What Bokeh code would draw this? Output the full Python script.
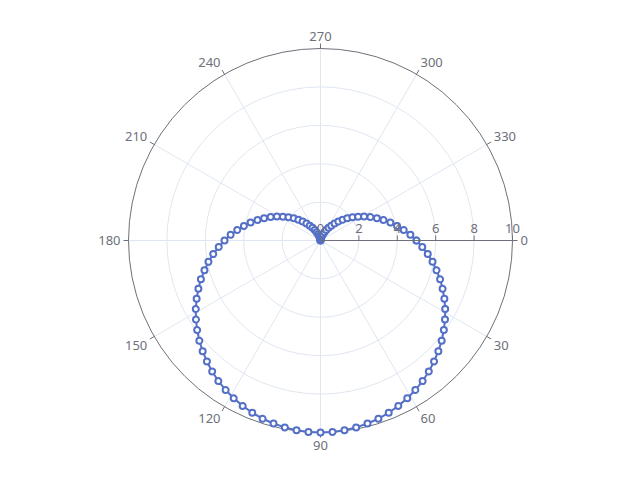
import numpy as np
from bokeh.plotting import figure
from bokeh.models import ColumnDataSource, Range1d
from bokeh.core.properties import value
from bokeh.embed import file_html
from bokeh.resources import INLINE

# ---- data (radius, angle in degrees, clockwise from 3 o'clock) ----
r_values = [5.00, 5.31, 5.63, 5.94, 6.24, 6.55, 6.84, 7.13, 7.41, 7.68, 7.94, 8.19, 8.42,
            8.64, 8.85, 9.05, 9.22, 9.38, 9.52, 9.65, 9.76, 9.84, 9.91, 9.96, 9.99, 10.00,
            9.99, 9.96, 9.91, 9.84, 9.76, 9.65, 9.52, 9.38, 9.22, 9.05, 8.85, 8.64, 8.42,
            8.19, 7.94, 7.68, 7.41, 7.13, 6.84, 6.55, 6.24, 5.94, 5.63, 5.31, 5.00,
            4.69, 4.37, 4.06, 3.76, 3.45, 3.16, 2.87, 2.59, 2.32, 2.06, 1.81, 1.58, 1.36,
            1.15, 0.95, 0.78, 0.62, 0.48, 0.35, 0.24, 0.16, 0.09, 0.04, 0.01, 0.00,
            0.01, 0.04, 0.09, 0.16, 0.24, 0.35, 0.48, 0.62, 0.78, 0.95, 1.15, 1.36, 1.58,
            1.81, 2.06, 2.32, 2.59, 2.87, 3.16, 3.45, 3.76, 4.06, 4.37, 4.69, 5.00]
theta_values = [0.0, 3.6, 7.2, 10.8, 14.4, 18.0, 21.6, 25.2, 28.8, 32.4, 36.0, 39.6, 43.2,
                46.8, 50.4, 54.0, 57.6, 61.2, 64.8, 68.4, 72.0, 75.6, 79.2, 82.8, 86.4, 90.0,
                93.6, 97.2, 100.8, 104.4, 108.0, 111.6, 115.2, 118.8, 122.4, 126.0, 129.6,
                133.2, 136.8, 140.4, 144.0, 147.6, 151.2, 154.8, 158.4, 162.0, 165.6, 169.2,
                172.8, 176.4, 180.0, 183.6, 187.2, 190.8, 194.4, 198.0, 201.6, 205.2, 208.8,
                212.4, 216.0, 219.6, 223.2, 226.8, 230.4, 234.0, 237.6, 241.2, 244.8, 248.4,
                252.0, 255.6, 259.2, 262.8, 266.4, 270.0, 273.6, 277.2, 280.8, 284.4, 288.0,
                291.6, 295.2, 298.8, 302.4, 306.0, 309.6, 313.2, 316.8, 320.4, 324.0, 327.6,
                331.2, 334.8, 338.4, 342.0, 345.6, 349.2, 352.8, 356.4, 360.0]
angle_ticks = [0, 30, 60, 90, 120, 150, 180, 210, 240, 270, 300, 330]
angle_labels = ["0", "30", "60", "90", "120", "150", "180", "210", "240", "270", "300", "330"]
radius_ticks = [0, 2, 4, 6, 8, 10]
radius_labels = ["0", "2", "4", "6", "8", "10"]
r_max = 10

# ---- geometry ----
W, H = 624, 464
cx_px, cy_px = 320, 240          # centre in plot pixels
R_px = 192                       # outer radius in pixels
ppu = R_px / r_max               # pixels per unit

AXIS = "#6E7079"
SPLIT = "#E0E6F1"
SERIES = "#5470c6"
FONT = "Noto Sans"
FSIZE = "13px"

p = figure(width=W, height=H, output_backend="svg", toolbar_location=None,
           x_range=Range1d(-cx_px / ppu, (W - cx_px) / ppu),
           y_range=Range1d(-(H - cy_px) / ppu, cy_px / ppu),
           min_border=0, border_fill_color="white", background_fill_color="white")
p.xaxis.visible = False
p.yaxis.visible = False
p.grid.visible = False
p.outline_line_color = None


def pol(r, deg):
    a = np.deg2rad(np.asarray(deg, dtype=float))
    r = np.asarray(r, dtype=float)
    return r * np.cos(a), -r * np.sin(a)


# split circles
inner = [t for t in radius_ticks if 0 < t < r_max]
p.circle(x=[0] * len(inner), y=[0] * len(inner), radius=inner,
         fill_color=None, line_color=SPLIT, line_width=1)

# spokes
sx, sy = pol([r_max] * len(angle_ticks), angle_ticks)
p.segment(x0=[0] * len(angle_ticks), y0=[0] * len(angle_ticks), x1=sx, y1=sy,
          line_color=SPLIT, line_width=1)

# outer circle (angle axis line)
p.circle(x=[0], y=[0], radius=[r_max], fill_color=None, line_color=AXIS, line_width=1)

# angle ticks
tx0, ty0 = pol([r_max] * len(angle_ticks), angle_ticks)
tx1, ty1 = pol([r_max + 5 / ppu] * len(angle_ticks), angle_ticks)
p.segment(x0=tx0, y0=ty0, x1=tx1, y1=ty1, line_color=AXIS, line_width=1)

# angle labels
lx, ly = pol([r_max + 8 / ppu] * len(angle_ticks), angle_ticks)
aligns, bases = [], []
for t in angle_ticks:
    c = np.cos(np.deg2rad(t))
    s = np.sin(np.deg2rad(t))
    aligns.append("center" if abs(c) < 0.3 else ("left" if c > 0 else "right"))
    bases.append("middle" if abs(s) < 0.3 else ("top" if s > 0 else "bottom"))
lab_src = ColumnDataSource(dict(x=lx, y=ly, text=angle_labels, align=aligns, base=bases))
p.text(x="x", y="y", text="text", source=lab_src, text_align="align",
       text_baseline="base", text_font=value(FONT), text_font_size=FSIZE,
       text_color=AXIS)

# series line and markers
px, py = pol(r_values, theta_values)
p.line(px, py, line_color=SERIES, line_width=2)
p.scatter(px, py, size=6, marker="circle", fill_color="white",
          line_color=SERIES, line_width=2)

# radius axis along angle 0
p.segment(x0=[0], y0=[0], x1=[r_max], y1=[0], line_color=AXIS, line_width=1)
p.segment(x0=radius_ticks, y0=[0] * len(radius_ticks), x1=radius_ticks,
          y1=[5 / ppu] * len(radius_ticks), line_color=AXIS, line_width=1)
p.text(x=radius_ticks, y=[8 / ppu] * len(radius_ticks), text=radius_labels,
       text_align="center", text_baseline="bottom", text_font=value(FONT),
       text_font_size=FSIZE, text_color=AXIS)

open("out.html", "w").write(file_html(p, INLINE))
